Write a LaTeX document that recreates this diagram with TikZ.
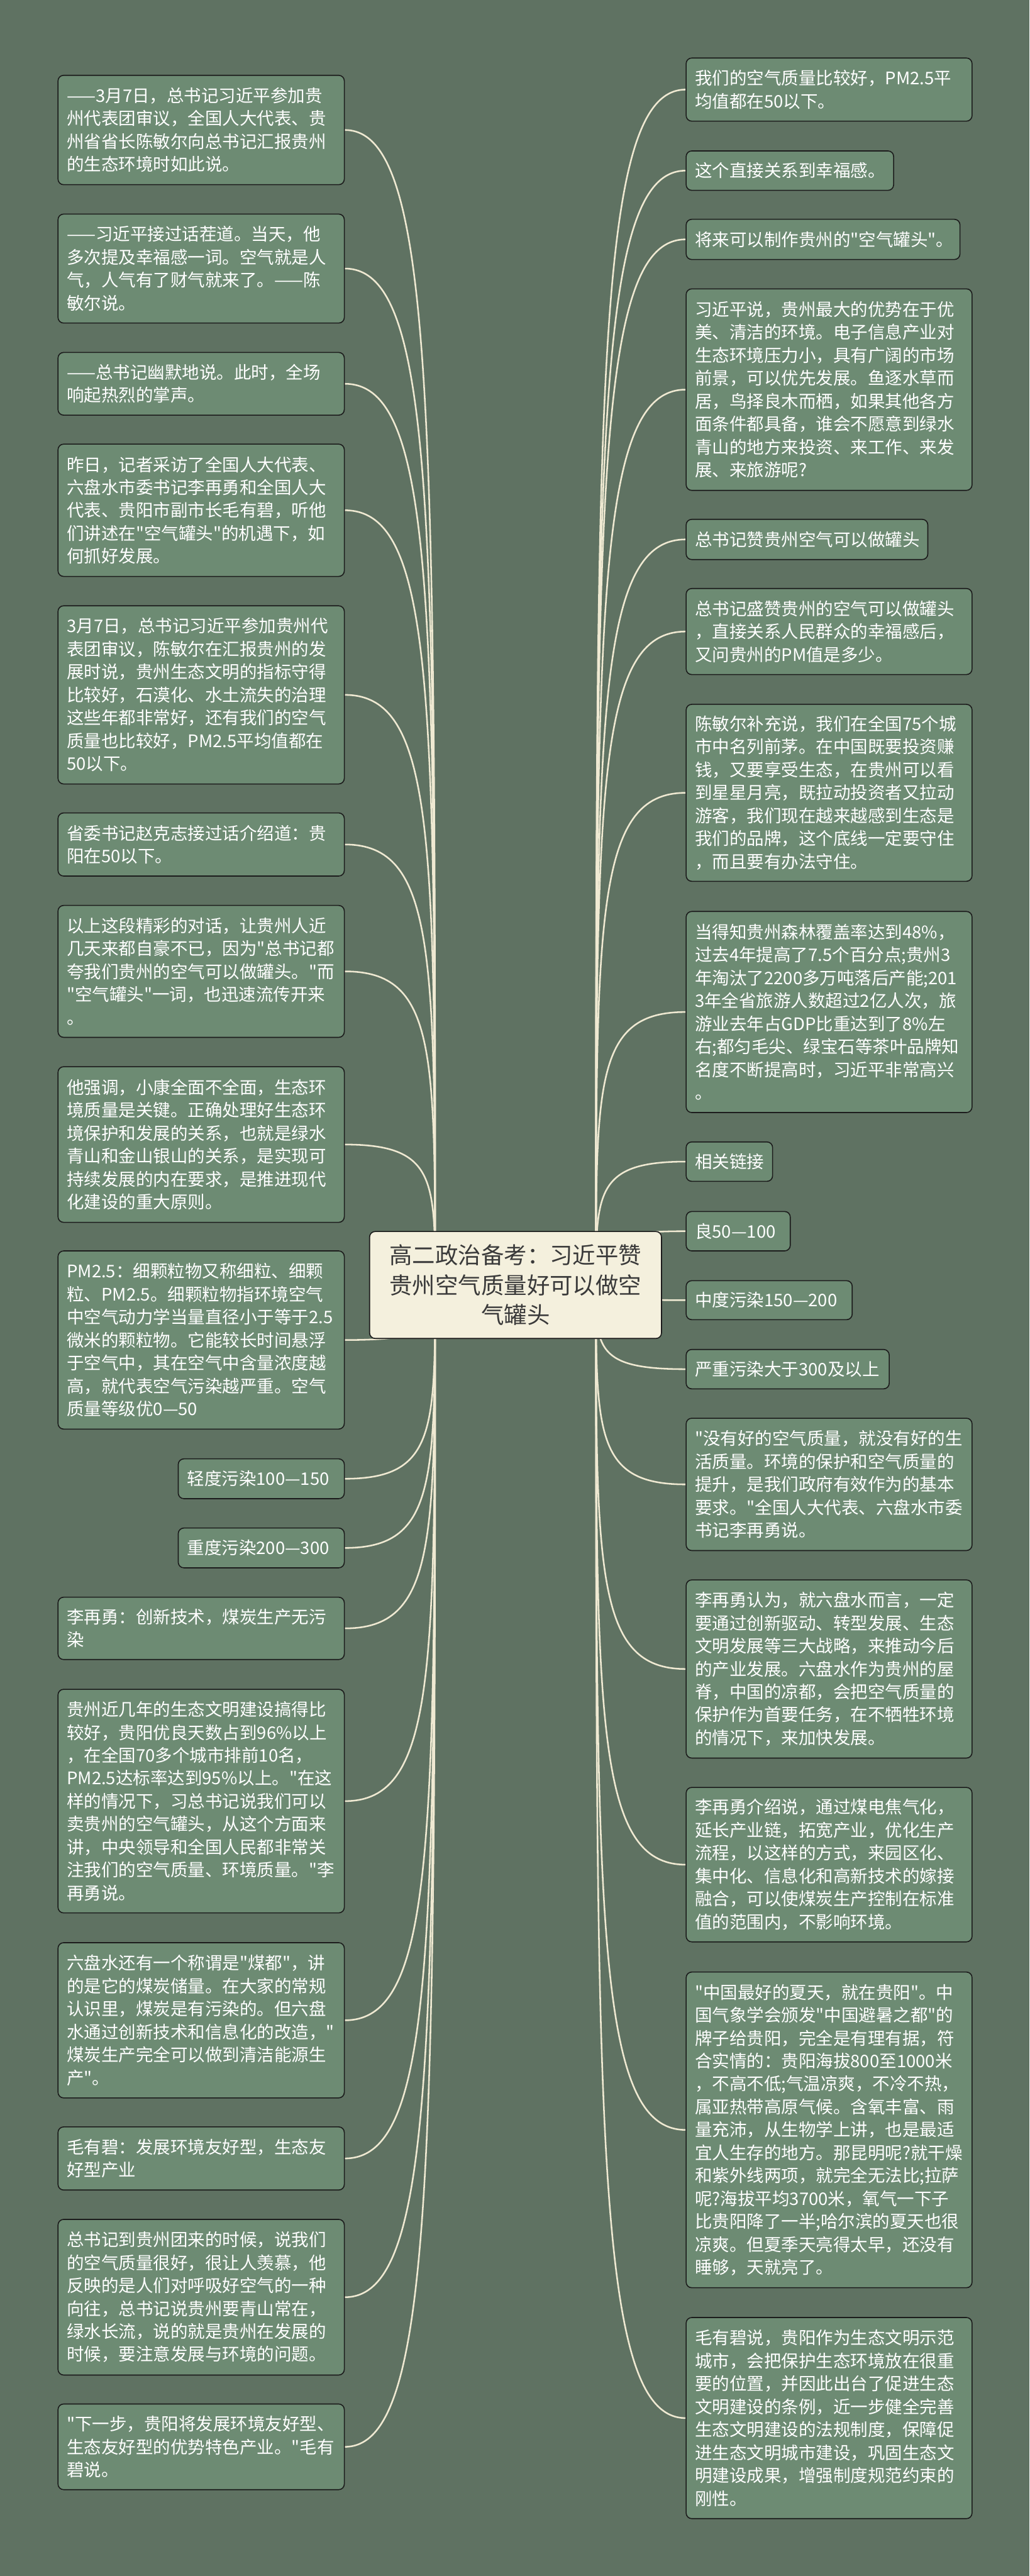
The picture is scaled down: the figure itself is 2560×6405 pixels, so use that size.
\documentclass[tikz,border=0pt]{standalone}
\usepackage{fontspec}
\newfontfamily\cjk{Noto Sans CJK SC}
\usetikzlibrary{calc}
\pgfdeclarelayer{bgl}\pgfdeclarelayer{back}
\pgfsetlayers{bgl,back,main}
\definecolor{bgcol}{HTML}{5F7262}
\definecolor{boxfill}{HTML}{6D8B73}
\definecolor{boxline}{HTML}{1C1C1C}
\definecolor{conncol}{HTML}{EFE9D2}
\definecolor{rootfill}{HTML}{F4F0DD}
\definecolor{roottext}{HTML}{3A3A3A}
\tikzset{
  box/.style={draw=boxline, line width=2.5pt, fill=boxfill, rounded corners=14pt,
    anchor=north west, inner xsep=22pt, inner ysep=0pt, align=left, text=white,
    font=\cjk\fontsize{43}{57}\selectfont},
  rootbox/.style={draw=boxline, line width=2.5pt, fill=rootfill, rounded corners=14pt,
    align=center, text=roottext, minimum width=726pt, minimum height=266pt,
    inner sep=0pt, font=\cjk\fontsize{57}{74}\selectfont},
  conn/.style={draw=conncol, line width=4pt},
}
\newcommand\tbox[6]{\node[box, text width=#4pt, minimum height=#5pt] (#1) at (#2,#3) {#6};}
\begin{document}
\begin{tikzpicture}[x=1pt,y=-1pt]
\begin{pgfonlayer}{bgl}
\fill[bgcol] (0,0) rectangle (2560,6405);
\end{pgfonlayer}
% root
\node[rootbox] (root) at (1282,3195) {高二政治备考：习近平赞\\贵州空气质量好可以做空\\气罐头};
\coordinate (lroot) at (1082,3195);
\coordinate (rroot) at (1482,3195);
% left column
\tbox{L1}{143}{186}{668}{272}{——3月7日，总书记习近平参加贵\\州代表团审议，全国人大代表、贵\\州省省长陈敏尔向总书记汇报贵州\\的生态环境时如此说。}
\tbox{L2}{143}{531}{668}{271}{——习近平接过话茬道。当天，他\\多次提及幸福感一词。空气就是人\\气，人气有了财气就来了。——陈\\敏尔说。}
\tbox{L3}{143}{875}{668}{156}{——总书记幽默地说。此时，全场\\响起热烈的掌声。}
\tbox{L4}{143}{1103}{668}{329}{昨日，记者采访了全国人大代表、\\六盘水市委书记李再勇和全国人大\\代表、贵阳市副市长毛有碧，听他\\们讲述在"空气罐头"的机遇下，如\\何抓好发展。}
\tbox{L5}{143}{1505}{668}{443}{3月7日，总书记习近平参加贵州代\\表团审议，陈敏尔在汇报贵州的发\\展时说，贵州生态文明的指标守得\\比较好，石漠化、水土流失的治理\\这些年都非常好，还有我们的空气\\质量也比较好，PM2.5平均值都在\\50以下。}
\tbox{L6}{143}{2020}{668}{157}{省委书记赵克志接过话介绍道：贵\\阳在50以下。}
\tbox{L7}{143}{2250}{668}{328}{以上这段精彩的对话，让贵州人近\\几天来都自豪不已，因为"总书记都\\夸我们贵州的空气可以做罐头。"而\\"空气罐头"一词，也迅速流传开来\\。}
\tbox{L8}{143}{2651}{668}{387}{他强调，小康全面不全面，生态环\\境质量是关键。正确处理好生态环\\境保护和发展的关系，也就是绿水\\青山和金山银山的关系，是实现可\\持续发展的内在要求，是推进现代\\化建设的重大原则。}
\tbox{L9}{143}{3109}{668}{443}{PM2.5：细颗粒物又称细粒、细颗\\粒、PM2.5。细颗粒物指环境空气\\中空气动力学当量直径小于等于2.5\\微米的颗粒物。它能较长时间悬浮\\于空气中，其在空气中含量浓度越\\高，就代表空气污染越严重。空气\\质量等级优0—50}
\tbox{L10}{442}{3626}{369}{99}{轻度污染100—150}
\tbox{L11}{442}{3798}{369}{99}{重度污染200—300}
\tbox{L12}{143}{3970}{668}{155}{李再勇：创新技术，煤炭生产无污\\染}
\tbox{L13}{143}{4199}{668}{556}{贵州近几年的生态文明建设搞得比\\较好，贵阳优良天数占到96\%以上\\，在全国70多个城市排前10名，\\PM2.5达标率达到95\%以上。"在这\\样的情况下，习总书记说我们可以\\卖贵州的空气罐头，从这个方面来\\讲，中央领导和全国人民都非常关\\注我们的空气质量、环境质量。"李\\再勇说。}
\tbox{L14}{143}{4829}{668}{386}{六盘水还有一个称谓是"煤都"，讲\\的是它的煤炭储量。在大家的常规\\认识里，煤炭是有污染的。但六盘\\水通过创新技术和信息化的改造，"\\煤炭生产完全可以做到清洁能源生\\产"。}
\tbox{L15}{143}{5287}{668}{157}{毛有碧：发展环境友好型，生态友\\好型产业}
\tbox{L16}{143}{5517}{668}{387}{总书记到贵州团来的时候，说我们\\的空气质量很好，很让人羡慕，他\\反映的是人们对呼吸好空气的一种\\向往，总书记说贵州要青山常在，\\绿水长流，说的就是贵州在发展的\\时候，要注意发展与环境的问题。}
\tbox{L17}{143}{5976}{668}{213}{"下一步，贵阳将发展环境友好型、\\生态友好型的优势特色产业。"毛有\\碧说。}
% right column
\tbox{R1}{1705}{143}{667}{157}{我们的空气质量比较好，PM2.5平\\均值都在50以下。}
\tbox{R2}{1705}{374}{472}{98}{这个直接关系到幸福感。}
\tbox{R3}{1705}{544}{637}{100}{将来可以制作贵州的"空气罐头"。}
\tbox{R4}{1705}{717}{667}{501}{习近平说，贵州最大的优势在于优\\美、清洁的环境。电子信息产业对\\生态环境压力小，具有广阔的市场\\前景，可以优先发展。鱼逐水草而\\居，鸟择良木而栖，如果其他各方\\面条件都具备，谁会不愿意到绿水\\青山的地方来投资、来工作、来发\\展、来旅游呢?}
\tbox{R5}{1705}{1290}{557}{100}{总书记赞贵州空气可以做罐头}
\tbox{R6}{1705}{1462}{667}{214}{总书记盛赞贵州的空气可以做罐头\\，直接关系人民群众的幸福感后，\\又问贵州的PM值是多少。}
\tbox{R7}{1705}{1750}{667}{440}{陈敏尔补充说，我们在全国75个城\\市中名列前茅。在中国既要投资赚\\钱，又要享受生态，在贵州可以看\\到星星月亮，既拉动投资者又拉动\\游客，我们现在越来越感到生态是\\我们的品牌，这个底线一定要守住\\，而且要有办法守住。}
\tbox{R8}{1705}{2265}{667}{500}{当得知贵州森林覆盖率达到48\%，\\过去4年提高了7.5个百分点;贵州3\\年淘汰了2200多万吨落后产能;201\\3年全省旅游人数超过2亿人次，旅\\游业去年占GDP比重达到了8\%左\\右;都匀毛尖、绿宝石等茶叶品牌知\\名度不断提高时，习近平非常高兴\\。}
\tbox{R9}{1705}{2838}{171}{98}{相关链接}
\tbox{R10}{1705}{3011}{215}{98}{良50—100}
\tbox{R11}{1705}{3183}{369}{97}{中度污染150—200}
\tbox{R12}{1705}{3354}{461}{98}{严重污染大于300及以上}
\tbox{R13}{1705}{3525}{667}{329}{"没有好的空气质量，就没有好的生\\活质量。环境的保护和空气质量的\\提升，是我们政府有效作为的基本\\要求。"全国人大代表、六盘水市委\\书记李再勇说。}
\tbox{R14}{1705}{3927}{667}{443}{李再勇认为，就六盘水而言，一定\\要通过创新驱动、转型发展、生态\\文明发展等三大战略，来推动今后\\的产业发展。六盘水作为贵州的屋\\脊，中国的凉都，会把空气质量的\\保护作为首要任务，在不牺牲环境\\的情况下，来加快发展。}
\tbox{R15}{1705}{4443}{667}{384}{李再勇介绍说，通过煤电焦气化，\\延长产业链，拓宽产业，优化生产\\流程，以这样的方式，来园区化、\\集中化、信息化和高新技术的嫁接\\融合，可以使煤炭生产控制在标准\\值的范围内，不影响环境。}
\tbox{R16}{1705}{4902}{667}{785}{"中国最好的夏天，就在贵阳"。中\\国气象学会颁发"中国避暑之都"的\\牌子给贵阳，完全是有理有据，符\\合实情的：贵阳海拔800至1000米\\，不高不低;气温凉爽，不冷不热，\\属亚热带高原气候。含氧丰富、雨\\量充沛，从生物学上讲，也是最适\\宜人生存的地方。那昆明呢?就干燥\\和紫外线两项，就完全无法比;拉萨\\呢?海拔平均3700米，氧气一下子\\比贵阳降了一半;哈尔滨的夏天也很\\凉爽。但夏季天亮得太早，还没有\\睡够，天就亮了。}
\tbox{R17}{1705}{5761}{667}{500}{毛有碧说，贵阳作为生态文明示范\\城市，会把保护生态环境放在很重\\要的位置，并因此出台了促进生态\\文明建设的条例，近一步健全完善\\生态文明建设的法规制度，保障促\\进生态文明城市建设，巩固生态文\\明建设成果，增强制度规范约束的\\刚性。}
% connectors
\begin{pgfonlayer}{back}
\foreach \i in {1,...,17} {
  \draw[conn] (L\i.east) .. controls (L\i.east -| lroot) and ($(L\i.east -| lroot)!0.25!(lroot)$) .. (lroot);
  \draw[conn] (R\i.west) .. controls (R\i.west -| rroot) and ($(R\i.west -| rroot)!0.25!(rroot)$) .. (rroot);
}
\end{pgfonlayer}
\end{tikzpicture}
\end{document}
